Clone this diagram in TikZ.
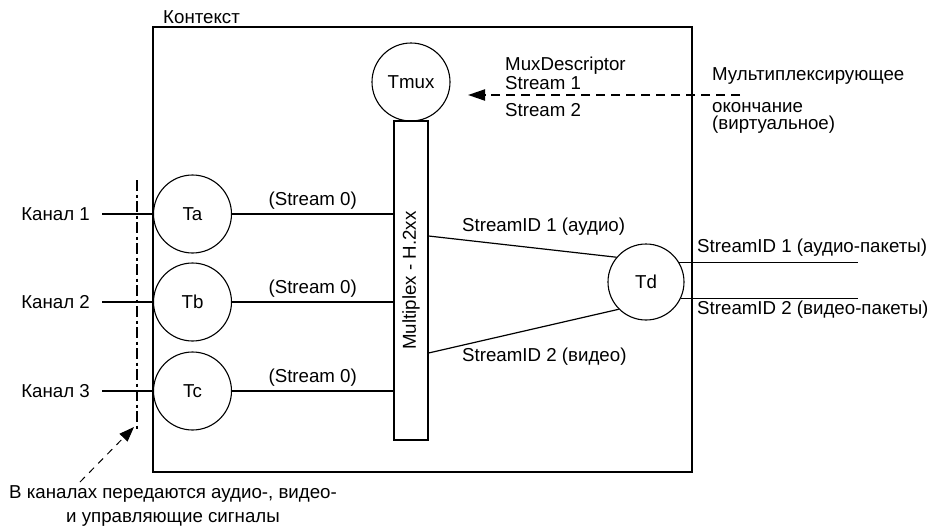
\documentclass[tikz,border=0pt]{standalone}
\usepackage{fontspec}
\setmainfont{Liberation Sans}
\usetikzlibrary{arrows.meta}
\tikzset{
     txt/.style = { font=\fontsize{18.7}{18.7}\selectfont, inner sep=0pt },
    term/.style = { circle, draw, line width=1.1pt, minimum size=78pt, inner sep=0pt, txt },
    wire/.style = { line width=1.2pt },
   cutln/.style = { line width=2.8pt, dash pattern=on 11pt off 3.5pt on 3pt off 3.5pt },
   marrow/.style = { line width=2pt, dash pattern=on 9pt off 6pt, -{Triangle[length=17pt,width=11pt]} },
   narrow/.style = { line width=1pt, dash pattern=on 7pt off 6pt, -{Triangle[length=15pt,width=11pt]} }
}
\begin{document}
\begin{tikzpicture}[x=1pt, y=-1pt]
  \useasboundingbox[fill=white] (0,0) rectangle (930,528);

  % context
  \draw[line width=1.4pt] (153,27) rectangle (692,472);
  \node[txt, anchor=west] (ctx) at (163,17) {Контекст};

  % terminations
  \node[term] (ta) at (192.5,214) {Ta};
  \node[term] (tb) at (192.5,302) {Tb};
  \node[term] (tc) at (192.5,391) {Tc};
  \node[term] (tmux) at (411,82) {Tmux};
  \node[term, minimum size=76pt] (td) at (646,282) {Td};

  % multiplexer
  \node[draw, line width=1.2pt, minimum width=34pt, minimum height=319pt, inner sep=0pt] (mux) at (411,280.5) {};
  \node[txt, rotate=90] (muxtext) at (mux.center) {Multiplex - H.2xx};

  % channels
  \node[txt, anchor=east] (k1) at (90,214) {Канал 1};
  \node[txt, anchor=east] (k2) at (90,302) {Канал 2};
  \node[txt, anchor=east] (k3) at (90,391) {Канал 3};
  \draw[wire] ([xshift=12pt]k1.east) -- (ta);
  \draw[wire] ([xshift=12pt]k2.east) -- (tb);
  \draw[wire] ([xshift=12pt]k3.east) -- (tc);

  \draw[wire] (ta) -- (ta -| mux.west) node[txt, midway, above=4pt] (s0a) {(Stream 0)};
  \draw[wire] (tb) -- (tb -| mux.west) node[txt, midway, above=4pt] (s0b) {(Stream 0)};
  \draw[wire] (tc) -- (tc -| mux.west) node[txt, midway, above=4pt] (s0c) {(Stream 0)};

  % mux to Td
  \draw[wire] ([yshift=44.5pt]mux.east) -- (td.140);
  \draw[wire] ([yshift=-72.5pt]mux.east) -- (td.225);
  \node[txt, anchor=west] (sid1) at (462,227) {StreamID 1 (аудио)};
  \node[txt, anchor=west] (sid2) at (462,357) {StreamID 2 (видео)};

  % Td outputs
  \coordinate (out) at (858,0);
  \draw[wire] (td.30) -- (td.30 -| out);
  \draw[wire] (td.-25) -- (td.-25 -| out);
  \node[txt, anchor=west] (pk1) at (697,248) {StreamID 1 (аудио-пакеты)};
  \node[txt, anchor=west] (pk2) at (697,310) {StreamID 2 (видео-пакеты)};

  % mux descriptor
  \coordinate (mfrom) at (740,95);
  \coordinate (mtip) at (468,95);
  \draw[marrow] (mfrom) -- (mtip);
  \node[txt, anchor=west] (md) at (505,66) {MuxDescriptor};
  \node[txt, anchor=west] (md1) at (505,83.5) {Stream 1};
  \node[txt, anchor=west] (md2) at (505,110.5) {Stream 2};
  \node[txt, anchor=west] (mt1) at (712,76) {Мультиплексирующее};
  \node[txt, anchor=west] (mt2) at (712,108) {окончание};
  \node[txt, anchor=west] (mt3) at (712,125) {(виртуальное)};

  % channel cut
  \coordinate (cuttop) at (137,180);
  \coordinate (cutbot) at (137,430);
  \draw[cutln] (cuttop) -- (cutbot);
  \coordinate (nfrom) at (80,482);
  \coordinate (ntip) at (134,427);
  \draw[narrow] (nfrom) -- (ntip);
  \node[txt, align=center, font=\fontsize{18.7}{24}\selectfont] (note) at (173,506)
    {В каналах передаются аудио-, видео-\\и управляющие сигналы};
\end{tikzpicture}
\end{document}
